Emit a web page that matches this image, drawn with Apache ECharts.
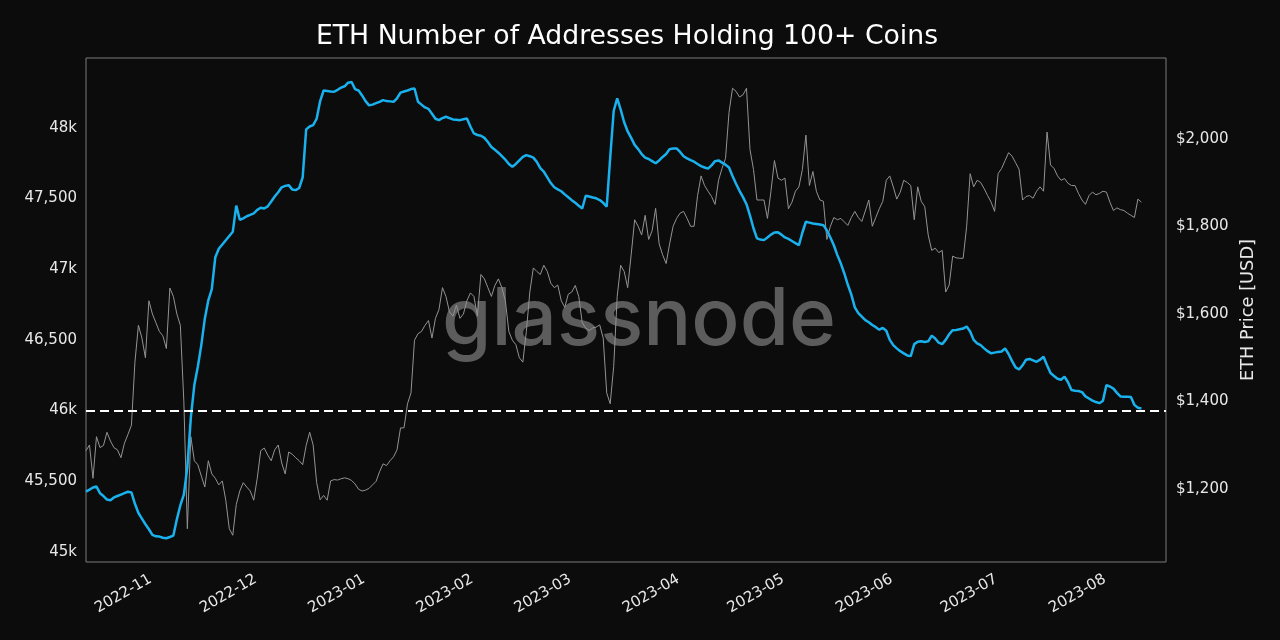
<!DOCTYPE html>
<html><head><meta charset="utf-8">
<script src="https://cdn.jsdelivr.net/npm/echarts@6/dist/echarts.min.js"></script>
<style>html,body{margin:0;padding:0;background:#0c0c0c;}#c{width:1280px;height:640px;}</style>
</head><body><div id="c"></div>
<script>
const titleText = 'ETH Number of Addresses Holding 100+ Coins';
const startDate = '2022-10-13T12:00:00Z';
const axisMin = '2022-10-13T12:00:00Z';
const axisMax = '2023-08-18T13:00:00Z';
const monthTicks = ['2022-11-01','2022-12-01','2023-01-01','2023-02-01','2023-03-01','2023-04-01','2023-05-01','2023-06-01','2023-07-01','2023-08-01'];
const leftTicks = [45000,45500,46000,46500,47000,47500,48000];
const rightTicks = [1200,1400,1600,1800,2000];
const refLevel = 46000;

// Number of addresses holding 100+ ETH (daily)
const addresses = [
45426,45440,45455,45462,45415,45395,45370,45365,45385,45395,
45405,45415,45425,45420,45340,45275,45235,45195,45160,45120,
45110,45108,45100,45096,45105,45115,45230,45330,45405,45600,
45950,46180,46310,46465,46650,46780,46860,47085,47145,47175,
47205,47235,47265,47450,47350,47360,47375,47385,47395,47420,
47435,47430,47445,47480,47515,47545,47580,47590,47595,47565,
47560,47575,47650,47990,48010,48020,48065,48190,48265,48262,
48258,48256,48270,48285,48295,48320,48325,48275,48265,48230,
48190,48160,48165,48175,48185,48197,48190,48188,48185,48210,
48250,48258,48265,48275,48279,48185,48165,48145,48135,48100,
48065,48055,48070,48079,48070,48060,48058,48055,48062,48067,
48010,47961,47950,47945,47930,47900,47865,47845,47825,47800,
47775,47745,47725,47745,47770,47795,47808,47800,47790,47760,
47715,47690,47650,47610,47580,47565,47552,47530,47510,47489,
47470,47450,47430,47520,47515,47508,47502,47490,47470,47442,
47790,48120,48209,48130,48040,47975,47930,47880,47850,47815,
47790,47780,47765,47750,47770,47795,47815,47850,47855,47855,
47830,47800,47785,47772,47761,47745,47730,47720,47712,47735,
47765,47770,47755,47740,47720,47660,47605,47555,47510,47460,
47380,47290,47218,47210,47206,47225,47245,47260,47262,47245,
47225,47215,47200,47185,47171,47260,47336,47330,47324,47320,
47316,47312,47275,47225,47170,47100,47040,46970,46890,46820,
46730,46690,46665,46640,46625,46605,46590,46572,46585,46565,
46500,46463,46440,46420,46405,46390,46385,46470,46487,46490,
46485,46490,46530,46510,46480,46470,46500,46540,46569,46570,
46575,46580,46595,46560,46500,46475,46463,46440,46420,46405,
46410,46415,46418,46440,46400,46350,46305,46290,46320,46360,
46365,46355,46345,46360,46380,46320,46265,46245,46225,46218,
46240,46200,46145,46140,46138,46130,46100,46085,46070,46060,
46052,46070,46180,46170,46155,46125,46100,46098,46098,46095,
46040,46020,46015
];

// ETH price in USD (daily)
const price = [
1288,1301,1225,1320,1295,1300,1330,1310,1295,1290,
1272,1305,1325,1346,1490,1574,1545,1500,1630,1600,
1580,1560,1550,1521,1659,1640,1600,1574,1400,1110,
1320,1265,1256,1230,1205,1265,1235,1225,1210,1219,
1175,1110,1095,1165,1196,1215,1205,1196,1175,1225,
1288,1294,1278,1265,1290,1301,1260,1235,1285,1280,
1272,1265,1256,1300,1330,1301,1215,1176,1186,1175,
1219,1222,1221,1224,1226,1224,1220,1212,1200,1196,
1198,1202,1210,1218,1240,1258,1254,1265,1274,1290,
1340,1340,1395,1420,1540,1555,1560,1574,1585,1545,
1590,1610,1660,1640,1605,1595,1620,1590,1600,1630,
1648,1640,1595,1690,1680,1660,1640,1665,1680,1660,
1630,1560,1540,1530,1500,1490,1560,1650,1705,1697,
1690,1711,1697,1670,1660,1666,1630,1615,1645,1650,
1665,1640,1580,1568,1562,1568,1570,1575,1545,1420,
1395,1480,1640,1711,1697,1660,1735,1815,1800,1780,
1825,1770,1790,1841,1760,1735,1715,1760,1800,1818,
1830,1834,1818,1800,1800,1870,1915,1893,1880,1868,
1850,1905,1932,1955,2060,2115,2108,2095,2100,2115,
1975,1930,1860,1860,1860,1818,1880,1950,1910,1905,
1910,1840,1855,1880,1890,1930,2008,1893,1925,1880,
1860,1857,1770,1800,1820,1815,1818,1810,1802,1820,
1834,1820,1811,1835,1860,1800,1820,1840,1857,1905,
1915,1890,1862,1878,1905,1900,1893,1815,1890,1857,
1845,1780,1745,1750,1740,1745,1650,1666,1732,1728,
1727,1727,1800,1920,1890,1905,1900,1886,1870,1855,
1834,1920,1932,1950,1968,1960,1945,1930,1860,1868,
1870,1864,1880,1890,1880,2015,1940,1932,1915,1905,
1909,1898,1893,1893,1875,1860,1850,1870,1878,1872,
1875,1880,1878,1855,1836,1842,1838,1836,1830,1825,
1820,1862,1855
];

const DAY = 86400000;
const t0 = Date.parse(startDate);
const addrData = addresses.map((v, i) => [t0 + i * DAY, v]);
const priceData = price.map((v, i) => [t0 + i * DAY, v]);
const tickTimes = monthTicks.map(s => Date.parse(s + 'T00:00:00Z'));

const FONT = 'DejaVu Sans';
const labelColor = '#e8e8e8';

const chart = echarts.init(document.getElementById('c'), null, {renderer: 'canvas'});
chart.setOption({
  backgroundColor: '#0c0c0c',
  animation: false,
  title: {
    text: titleText, left: 622, top: 19, textAlign: 'center',
    textStyle: {color: '#ffffff', fontSize: 26.7, fontWeight: 'normal', fontFamily: FONT}
  },
  grid: {left: 86, right: 114, top: 58, bottom: 78, show: true, borderColor: '#7a7a7a', borderWidth: 1, backgroundColor: 'transparent'},
  xAxis: {
    type: 'value', min: Date.parse(axisMin), max: Date.parse(axisMax), scale: true,
    axisLine: {show: false}, axisTick: {show: false}, splitLine: {show: false},
    axisLabel: {
      customValues: tickTimes, rotate: 30, margin: 16, color: labelColor, fontSize: 15, fontFamily: FONT,
      formatter: v => { const d = new Date(v); return d.getUTCFullYear() + '-' + String(d.getUTCMonth() + 1).padStart(2, '0'); }
    }
  },
  yAxis: [
    {
      type: 'value', position: 'left', min: 44928, max: 48495,
      axisLine: {show: false}, axisTick: {show: false}, splitLine: {show: false},
      axisLabel: {
        customValues: leftTicks, margin: 9, color: labelColor, fontSize: 15, fontFamily: FONT,
        formatter: v => (v % 1000 === 0 ? (v / 1000) + 'k' : v.toLocaleString('en-US'))
      }
    },
    {
      type: 'value', position: 'right', min: 1034, max: 2184,
      name: 'ETH Price [USD]', nameLocation: 'middle', nameRotate: 90, nameGap: 70,
      nameTextStyle: {color: labelColor, fontSize: 17.8, fontFamily: FONT},
      axisLine: {show: false}, axisTick: {show: false}, splitLine: {show: false},
      axisLabel: {
        customValues: rightTicks, margin: 10, color: labelColor, fontSize: 15, fontFamily: FONT,
        formatter: v => '$' + v.toLocaleString('en-US')
      }
    }
  ],
  graphic: [{
    type: 'text', x: 639, y: 321, z: 0, silent: true,
    style: {text: 'glassnode', fill: '#5c5c5c', font: '500 80px Inter', textAlign: 'center', textVerticalAlign: 'middle'}
  }],
  series: [
    {
      name: 'ETH Price', type: 'line', yAxisIndex: 1, data: priceData, showSymbol: false, symbol: 'none',
      lineStyle: {color: '#939393', width: 1}, z: 2, silent: true
    },
    {
      name: 'Addresses', type: 'line', yAxisIndex: 0, data: addrData, showSymbol: false, symbol: 'none',
      lineStyle: {color: '#19b2ef', width: 2.5}, z: 3, silent: true,
      markLine: {
        silent: true, symbol: ['none', 'none'], label: {show: false},
        lineStyle: {color: '#ffffff', type: [9, 5], width: 2},
        data: [{yAxis: refLevel}]
      }
    }
  ]
});
</script></body></html>
